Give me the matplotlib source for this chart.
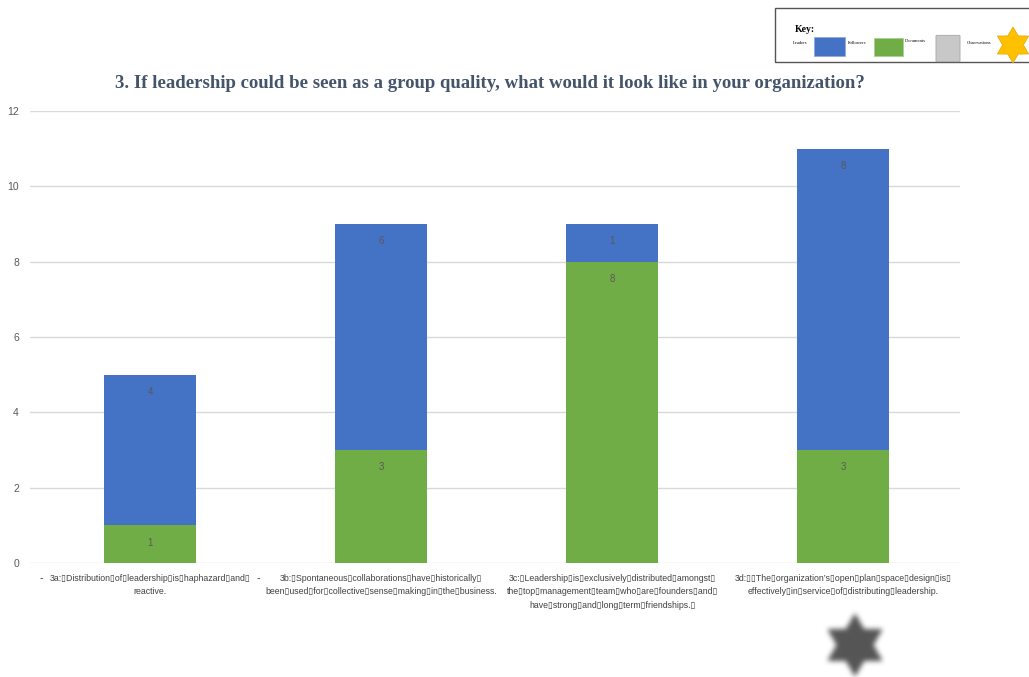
import numpy as np
import matplotlib
matplotlib.use("Agg")
import matplotlib.pyplot as plt
from matplotlib.patches import Rectangle, Polygon, FancyBboxPatch
from matplotlib.path import Path

W = 1029  # figure width, px
H = 677   # figure height, px

TITLE = "3. If leadership could be seen as a group quality, what would it look like in your organization?"
B = "\u25af"  # stand-in glyph between words
categories = [
    f"3a:{B}Distribution{B}of{B}leadership{B}is{B}haphazard{B}and{B}\nreactive.",
    f"3b:{B}Spontaneous{B}collaborations{B}have{B}historically{B}\nbeen{B}used{B}for{B}collective{B}sense{B}making{B}in{B}the{B}business.",
    f"3c:{B}Leadership{B}is{B}exclusively{B}distributed{B}amongst{B}\nthe{B}top{B}management{B}team{B}who{B}are{B}founders{B}and{B}\nhave{B}strong{B}and{B}long{B}term{B}friendships.{B}",
    f"3d:{B}{B}The{B}organization\u2019s{B}open{B}plan{B}space{B}design{B}is{B}\neffectively{B}in{B}service{B}of{B}distributing{B}leadership.",
]
followers = [1, 3, 8, 3]
leaders = [4, 6, 1, 8]
key_labels = ["Leaders", "Followers", "Documents", "Observations"]

BLUE = "#4472C4"
GREEN = "#70AD47"
GOLD = "#FFC000"
SANS = ["Liberation Sans", "DejaVu Sans"]


def fx(px):
    return px / W


def fy(py):
    return 1 - py / H


def star_points(cx, cy, r_out, r_in):
    # six pointed star, point up, in pixel coords (y down)
    pts = []
    for k in range(12):
        ang = np.pi / 2 + k * np.pi / 6
        r = r_out if k % 2 == 0 else r_in
        pts.append((cx + r * np.cos(ang), cy - r * np.sin(ang)))
    return pts


fig = plt.figure(figsize=(W / 100, H / 100), dpi=100)
ax = fig.add_axes([fx(30), fy(563), fx(960) - fx(30), fy(111) - fy(563)])

x = np.arange(len(categories))
width = 0.395
b1 = ax.bar(x, followers, width, color=GREEN, zorder=3)
b2 = ax.bar(x, leaders, width, bottom=followers, color=BLUE, zorder=3)

# value labels just inside the top of each segment
for bars, vals, base in [(b1, followers, [0] * 4), (b2, leaders, followers)]:
    for bar, v, b0 in zip(bars, vals, base):
        ax.annotate(str(v), (bar.get_x() + bar.get_width() / 2, b0 + v),
                    xytext=(0, -16), textcoords="offset points",
                    ha="center", va="bottom", fontsize=7, color="#595959",
                    family=SANS, zorder=4)

ax.set_xlim(-0.52, 3.506)
ax.set_ylim(0, 12)
ax.set_yticks(range(0, 13, 2))
ax.yaxis.grid(True, color="#D9D9D9", linewidth=1, zorder=0)
for s in ax.spines.values():
    s.set_visible(False)
ax.tick_params(axis="y", length=0, pad=8, labelsize=7.5, labelcolor="#595959")
for t in ax.get_yticklabels():
    t.set_family(SANS)
ax.set_xticks(x)
ax.set_xticklabels(categories, fontsize=6.3, color="#404040",
                   family=SANS, linespacing=1.6)
ax.tick_params(axis="x", length=0, pad=8)

# stray dashes on the category axis
ax.text(-0.47, -0.4, "-", fontsize=7, color="#404040", ha="center", va="center")
ax.text(0.47, -0.4, "-", fontsize=7, color="#404040", ha="center", va="center")

fig.text(fx(490), fy(83), TITLE, ha="center", va="center",
         fontsize=13.5, fontweight="bold", family="Liberation Serif",
         color="#44546A")

# key box
fig.patches.append(Rectangle((fx(775), fy(62)), fx(1040) - fx(775), fy(8) - fy(62),
                             transform=fig.transFigure, fill=False,
                             edgecolor="#555555", linewidth=1))
fig.text(fx(795), fy(29), "Key:", fontsize=7, fontweight="bold",
         family="Liberation Serif", va="center")
fig.text(fx(793), fy(43), key_labels[0], fontsize=3.3, family="Liberation Serif", va="center")
fig.patches.append(Rectangle((fx(814), fy(56)), fx(31), 19 / H, transform=fig.transFigure,
                             facecolor=BLUE, edgecolor="#8FAADC", linewidth=0.6))
fig.text(fx(848), fy(43), key_labels[1], fontsize=3.3, family="Liberation Serif", va="center")
fig.patches.append(Rectangle((fx(874), fy(56)), fx(29), 18 / H, transform=fig.transFigure,
                             facecolor=GREEN, edgecolor="#A9D18E", linewidth=0.6))
fig.text(fx(905), fy(41), key_labels[2], fontsize=3.3, family="Liberation Serif", va="center")
fig.patches.append(FancyBboxPatch((fx(937), fy(61)), fx(22), 25 / H,
                                  boxstyle="round,pad=0.001", transform=fig.transFigure,
                                  facecolor="#C8C8C8", edgecolor="#A6A6A6", linewidth=0.6))
fig.text(fx(967), fy(43), key_labels[3], fontsize=3.3, family="Liberation Serif", va="center")
gold = [(fx(px), fy(py)) for px, py in star_points(1013, 45, 18, 10.5)]
fig.patches.append(Polygon(gold, closed=True, transform=fig.transFigure,
                           facecolor=GOLD, edgecolor="#E0A800", linewidth=0.5))

# soft grey star below the last bar
n = 100
pts = star_points(n / 2, n / 2, 32, 18.5)
gx, gy = np.meshgrid(np.arange(n) + 0.5, np.arange(n) + 0.5)
mask = Path(pts).contains_points(np.c_[gx.ravel(), gy.ravel()]).reshape(n, n).astype(float)
kern = np.ones(5) / 5
for _ in range(3):
    mask = np.apply_along_axis(lambda r: np.convolve(r, kern, mode="same"), 1, mask)
    mask = np.apply_along_axis(lambda c: np.convolve(c, kern, mode="same"), 0, mask)
img = np.zeros((n, n, 4))
img[..., :3] = 0x55 / 255
img[..., 3] = mask
sax = fig.add_axes([fx(855 - n / 2), fy(645 + n / 2), fx(n), n / H])
sax.imshow(img, interpolation="bilinear")
sax.axis("off")

fig.savefig("out.png", dpi=100, facecolor="white")
